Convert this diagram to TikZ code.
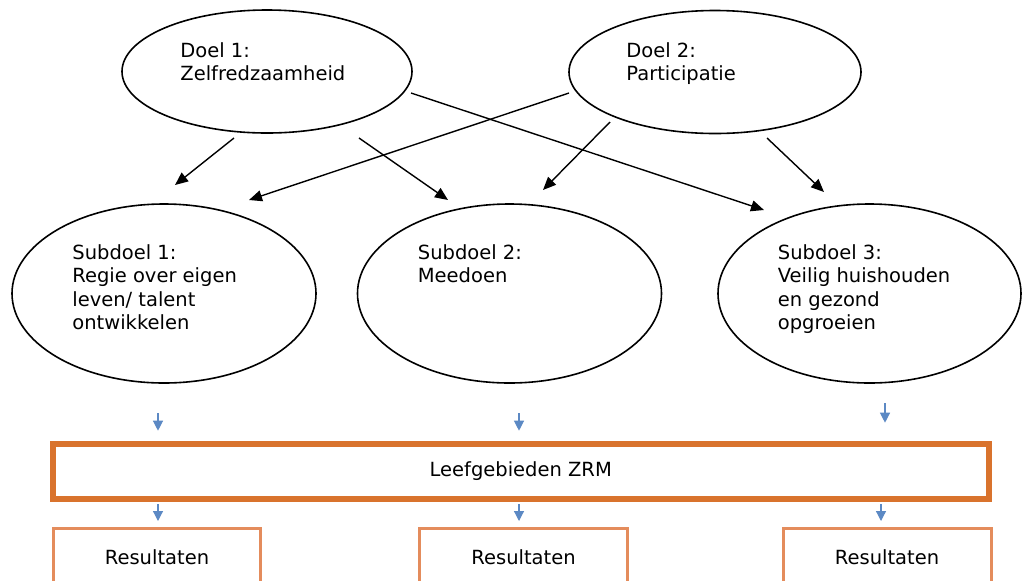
\documentclass[tikz,border=0pt]{standalone}
\usepackage{fontspec}
\setmainfont{DejaVu Sans}
\usetikzlibrary{positioning, arrows.meta, shapes.geometric}
\definecolor{zrmoranje}{RGB}{217,115,45}
\definecolor{resoranje}{RGB}{228,140,92}
\definecolor{pijlblauw}{RGB}{92,137,196}

\begin{document}
\begin{tikzpicture}[
      x=0.5pt, y=-0.5pt,
      every node/.style = {font=\fontsize{9.75}{11.75}\selectfont},
      doel/.style      = {ellipse, draw, line width=0.8pt, inner sep=0pt, minimum width=145pt, minimum height=61.5pt},
      subdoel/.style   = {ellipse, draw, line width=0.8pt, inner sep=0pt, minimum width=152pt, minimum height=89.5pt},
      tekst/.style     = {anchor=north west, inner sep=0pt, align=left},
      pijl/.style      = {line width=0.7pt, -{Triangle[length=6.5pt,width=5.5pt]}},
      blauw/.style     = {draw=pijlblauw, line width=0.6pt, -{Triangle[length=5pt,width=5pt]}},
      resultaat/.style = {rectangle, draw=resoranje, line width=1.5pt, minimum width=103.5pt, minimum height=28.5pt}
    ]
    \clip (0,0) rectangle (1023,580);

    \node[doel] (d1) at (267,71.5) {};
    \node[doel, minimum width=146pt] (d2) at (715,72) {};
    \node[tekst] (d1t) at (180,42) {Doel 1:\\Zelfredzaamheid};
    \node[tekst] (d2t) at (626,42) {Doel 2:\\Participatie};

    \node[subdoel] (s1) at (164,293.5) {};
    \node[subdoel] (s2) at (509.5,293.5) {};
    \node[subdoel, minimum width=151.5pt] (s3) at (869.5,293.5) {};
    \node[tekst] (s1t) at (72,244) {Subdoel 1:\\Regie over eigen\\leven/ talent\\ontwikkelen};
    \node[tekst] (s2t) at (417.5,244) {Subdoel 2:\\Meedoen};
    \node[tekst] (s3t) at (777.5,244) {Subdoel 3:\\Veilig huishouden\\en gezond\\opgroeien};

    \node[rectangle, draw=zrmoranje, line width=3pt, minimum width=467.75pt, minimum height=27.5pt] (zrm) at (520.75,471.2) {Leefgebieden ZRM};

    \node[resultaat] (r1) at (157,557) {Resultaten};
    \node[resultaat, minimum width=104pt] (r2) at (523.5,557) {Resultaten};
    \node[resultaat, minimum width=104pt] (r3) at (887,557) {Resultaten};

    \coordinate (a1) at (234,138);  \coordinate (e1) at (175,185);
    \coordinate (a2) at (359,138);  \coordinate (e2) at (448,200);
    \coordinate (a3) at (411,93);   \coordinate (e3) at (764,210);
    \coordinate (a4) at (569,93);   \coordinate (e4) at (249,200);
    \coordinate (a5) at (610,122);  \coordinate (e5) at (543,190);
    \coordinate (a6) at (767,138);  \coordinate (e6) at (824,192);
    \draw[pijl] (a1) -- (e1);
    \draw[pijl] (a2) -- (e2);
    \draw[pijl] (a3) -- (e3);
    \draw[pijl] (a4) -- (e4);
    \draw[pijl] (a5) -- (e5);
    \draw[pijl] (a6) -- (e6);

    \coordinate (o1) at (158,413);
    \coordinate (o2) at (519,413);
    \coordinate (o3) at (885,403);
    \draw[blauw, shorten >=5pt] (o1) -- (o1 |- zrm.north);
    \draw[blauw, shorten >=5pt] (o2) -- (o2 |- zrm.north);
    \draw[blauw, shorten >=9pt] (o3) -- (o3 |- zrm.north);
    \draw[blauw, shorten <=1.2pt, shorten >=3pt] (o1 |- zrm.south) -- (o1 |- r1.north);
    \draw[blauw, shorten <=1.2pt, shorten >=3pt] (o2 |- zrm.south) -- (o2 |- r2.north);
    \draw[blauw, shorten <=1.2pt, shorten >=3pt] ([xshift=-2pt]o3 |- zrm.south) -- ([xshift=-2pt]o3 |- r3.north);
  \end{tikzpicture}
\end{document}
